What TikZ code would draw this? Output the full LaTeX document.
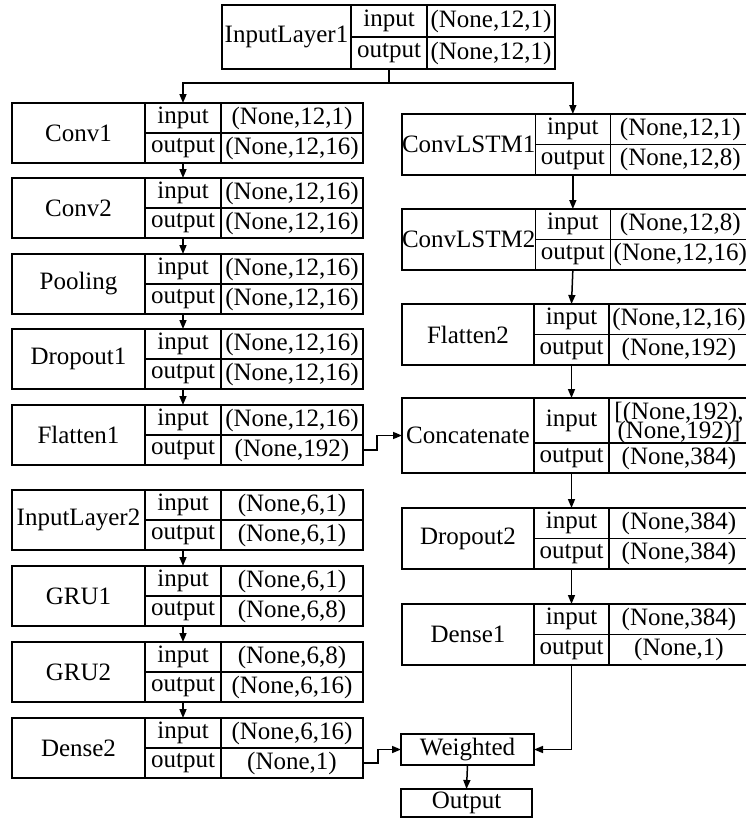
\documentclass[tikz,border=0pt]{standalone}
\usepackage{fontspec}
\setmainfont{Liberation Serif}
\usetikzlibrary{arrows.meta,calc}
\tikzset{
  layercell/.style={draw, line width=1.5pt, inner sep=0pt, outer sep=0pt, anchor=north west},
  txt/.style={inner sep=0pt},
  flow/.style={line width=1.5pt, -{Triangle[length=9pt,width=7pt]}},
}
% one layer: name | input/output | shapes
\newcommand{\layer}[6]{%
  \node[layercell, minimum width=\wa, minimum height=\hh] (#1) at (#2,#3) {#4};
  \node[layercell, minimum width=\wb, minimum height=\hh/2] (#1-i) at (#1.north east) {input};
  \node[layercell, minimum width=\wb, minimum height=\hh/2] (#1-o) at (#1-i.south west) {output};
  \node[layercell, minimum width=\wc, minimum height=\hh/2] (#1-iv) at (#1-i.north east) {#5};
  \node[layercell, minimum width=\wc, minimum height=\hh/2] (#1-ov) at (#1-o.north east) {#6};
}

\begin{document}
\begin{tikzpicture}[x=1pt, y=-1pt, font=\fontsize{25}{27}\selectfont]
			\useasboundingbox (0,0) rectangle (745,819);
			
			%%%%% INPUT %%%%%
			\def\wa{129pt}\def\wb{76pt}\def\wc{128pt}\def\hh{64pt}
			\layer{in1}{222}{5}{InputLayer1}{(None,12,1)}{(None,12,1)}
			
			%%%%% LEFT BRANCH %%%%%
			\def\wa{133pt}\def\wb{76pt}\def\wc{142pt}\def\hh{60pt}
			\layer{conv1}{12}{103}{Conv1}{(None,12,1)}{(None,12,16)}
			\layer{conv2}{12}{178}{Conv2}{(None,12,16)}{(None,12,16)}
			\layer{pool}{12}{254}{Pooling}{(None,12,16)}{(None,12,16)}
			\layer{drop1}{12}{329}{Dropout1}{(None,12,16)}{(None,12,16)}
			\layer{flat1}{12}{405}{Flatten1}{(None,12,16)}{(None,192)}
			
			\layer{in2}{12}{490}{InputLayer2}{(None,6,1)}{(None,6,1)}
			\layer{gru1}{12}{566}{GRU1}{(None,6,1)}{(None,6,8)}
			\layer{gru2}{12}{642}{GRU2}{(None,6,8)}{(None,6,16)}
			\layer{dense2}{12}{718}{Dense2}{(None,6,16)}{(None,1)}
			
			%%%%% RIGHT BRANCH %%%%%
			\def\wa{132pt}\def\wb{75pt}\def\wc{140pt}\def\hh{61pt}
			\layer{clstm1}{402}{114}{ConvLSTM1}{(None,12,1)}{(None,12,8)}
			\layer{clstm2}{402}{209}{ConvLSTM2}{(None,12,8)}{(None,12,16)}
			\layer{flat2}{402}{304}{Flatten2}{(None,12,16)}{(None,192)}
			
			\node[layercell, minimum width=\wa, minimum height=75pt] (concat) at (402,398) {Concatenate};
			\node[layercell, minimum width=\wb, minimum height=45pt] (concat-i) at (concat.north east) {input};
			\node[layercell, minimum width=\wb, minimum height=30pt] (concat-o) at (concat-i.south west) {output};
			\node[layercell, minimum width=\wc, minimum height=45pt] (concat-iv) at (concat-i.north east) {};
			\node[layercell, minimum width=\wc, minimum height=30pt] (concat-ov) at (concat-o.north east) {(None,384)};
			\node[txt] (concat-iva) at ($(concat-iv.north)+(0,15)$) {[(None,192),};
			\node[txt] (concat-ivb) at ($(concat-iv.north)+(0,34)$) {(None,192)]};
			
			\layer{drop2}{402}{508}{Dropout2}{(None,384)}{(None,384)}
			\layer{dense1}{402}{604}{Dense1}{(None,384)}{(None,1)}
			
			%%%%% OUTPUT %%%%%
			\node[layercell, minimum width=133pt, minimum height=31pt] (weighted) at (401,734) {Weighted};
			\node[layercell, minimum width=131pt, minimum height=28pt] (output) at (401,789) {Output};
			
			%%%%% CONNECTIONS %%%%%
			\coordinate (fork) at ($(in1-o.south)+(0,14)$);
			\draw[flow] (in1-o.south) -- (fork) -| (conv1-i.north);
			\draw[flow] (fork) -| (clstm1-i.north);
			
			\foreach \a/\b in {conv1/conv2, conv2/pool, pool/drop1, drop1/flat1, in2/gru1, gru1/gru2, gru2/dense2,
			                   clstm1/clstm2, clstm2/flat2, flat2/concat, concat/drop2, drop2/dense1}
			  \draw[flow] (\a-o.south) -- (\b-i.north);
			
			\draw[flow] (flat1-ov.east) -- ++(14,0) |- (concat.west);
			\draw[flow] (dense2-ov.east) -- ++(15,0) |- (weighted.west);
			\draw[flow] (dense1-o.south) |- (weighted.east);
			\draw[flow] (weighted.south) -- (output.north);
			
\end{tikzpicture}
\end{document}
